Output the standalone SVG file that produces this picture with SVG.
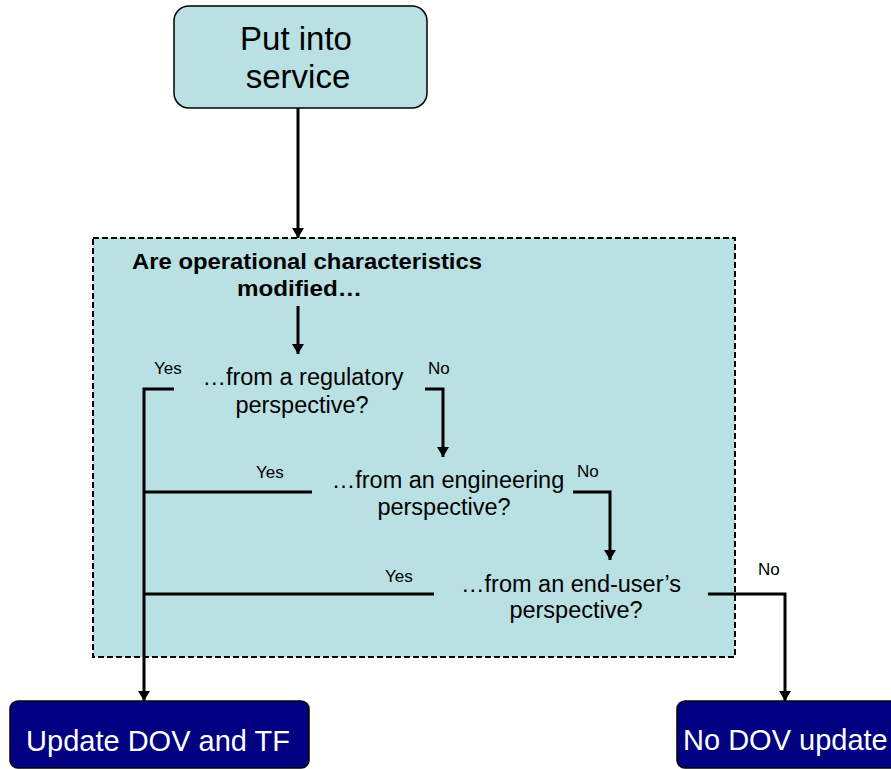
<svg xmlns="http://www.w3.org/2000/svg" width="891" height="769" viewBox="0 0 891 769">
  <defs>
    <marker id="arrow" viewBox="0 0 10 12" refX="10" refY="6" markerWidth="10" markerHeight="12" markerUnits="userSpaceOnUse" orient="auto">
      <path d="M0,0 L10,6 L0,12 Z" fill="#000"/>
    </marker>
    <style>
      text { font-family: "Liberation Sans", Arial, sans-serif; fill: #000; }
      .title { font-size: 33px; text-anchor: middle; }
      .q { font-size: 23.5px; text-anchor: middle; }
      .lbl { font-size: 17px; }
      .head { font-size: 22.5px; font-weight: bold; }
      .out { font-size: 29px; fill: #fff; }
      .edge { fill: none; stroke: #000; stroke-width: 3; }
    </style>
  </defs>
  <rect width="891" height="769" fill="#fff"/>

  <!-- decision area -->
  <g id="decision-area">
    <rect x="93" y="238" width="642" height="419" fill="#b9e0e3" stroke="#000" stroke-width="2" stroke-dasharray="6,3"/>
    <text class="head" x="132" y="269" textLength="350" lengthAdjust="spacingAndGlyphs">Are operational characteristics</text>
    <text class="head" x="237" y="296" textLength="125" lengthAdjust="spacingAndGlyphs">modified…</text>
  </g>

  <g id="start">
    <rect x="174" y="6" width="253" height="102" rx="15" ry="15" fill="#b9e0e3" stroke="#000" stroke-width="1.5"/>
    <text class="title" x="296" y="50">Put into</text>
    <text class="title" x="298" y="88">service</text>
  </g>

  <g id="q-regulatory">
    <text class="q" x="303" y="385">…from a regulatory</text>
    <text class="q" x="302" y="413">perspective?</text>
  </g>
  <g id="q-engineering">
    <text class="q" x="448" y="488">…from an engineering</text>
    <text class="q" x="444" y="515">perspective?</text>
  </g>
  <g id="q-enduser">
    <text class="q" x="571" y="592">…from an end-user’s</text>
    <text class="q" x="576" y="618">perspective?</text>
  </g>

  <g id="update">
    <rect x="10" y="701" width="299" height="67" rx="8" ry="8" fill="#000080" stroke="#000" stroke-width="1.5"/>
    <text class="out" x="158" y="751" text-anchor="middle">Update DOV and TF</text>
  </g>
  <g id="no-update">
    <rect x="677" y="701" width="224" height="67" rx="8" ry="8" fill="#000080" stroke="#000" stroke-width="1.5"/>
    <text class="out" x="683" y="750">No DOV update</text>
  </g>

  <g id="connectors">
    <path class="edge" d="M298,108 V238" marker-end="url(#arrow)"/>
    <path class="edge" d="M298,306 V354" marker-end="url(#arrow)"/>
    <path class="edge" d="M174,389 H144 V701" marker-end="url(#arrow)"/>
    <path class="edge" d="M425,389 H443 V457" marker-end="url(#arrow)"/>
    <path class="edge" d="M312,492 H144"/>
    <path class="edge" d="M573,492 H610 V560" marker-end="url(#arrow)"/>
    <path class="edge" d="M434,594 H144"/>
    <path class="edge" d="M708,594 H785 V701" marker-end="url(#arrow)"/>
    <text class="lbl" x="154" y="374">Yes</text>
    <text class="lbl" x="428" y="374">No</text>
    <text class="lbl" x="256" y="478">Yes</text>
    <text class="lbl" x="577" y="477">No</text>
    <text class="lbl" x="385" y="582">Yes</text>
    <text class="lbl" x="758" y="575">No</text>
  </g>
</svg>
